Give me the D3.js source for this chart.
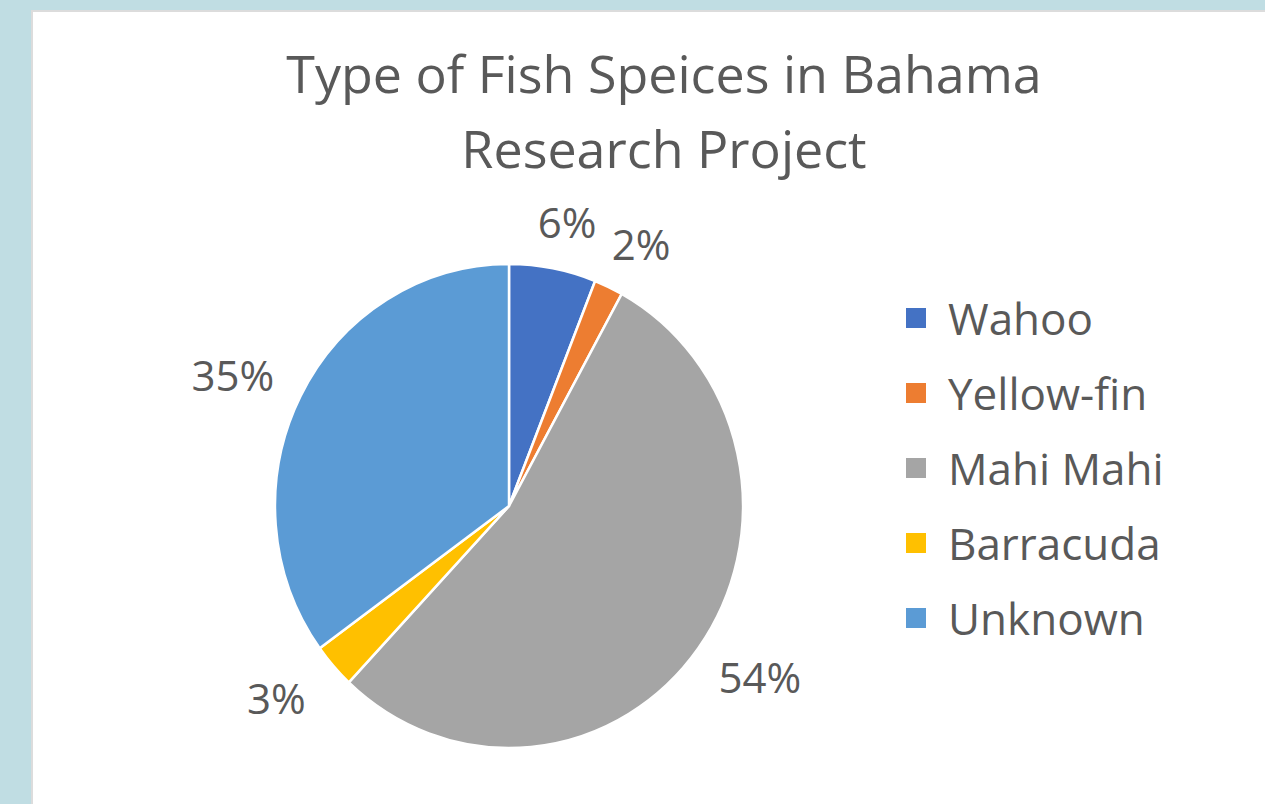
<!DOCTYPE html>
<html>
<head>
<meta charset="utf-8">
<script src="https://cdn.jsdelivr.net/npm/d3@7"></script>
<style>
  html, body { margin: 0; padding: 0; background: #c0dde3; }
  svg { display: block; }
  text { font-family: "Open Sans", sans-serif; fill: #595959; }
</style>
</head>
<body>
<div id="pie-container"></div>
<script>
// chart data
const titleLines = ["Type of Fish Speices in Bahama", "Research Project"];
const species = ["Wahoo", "Yellow-fin", "Mahi Mahi", "Barracuda", "Unknown"];
const percents = [6, 2, 54, 3, 35];
const colors = ["#4472c4", "#ed7d31", "#a5a5a5", "#ffc000", "#5b9bd5"];

const width = 1265;
const height = 804;
const cx = 509, cy = 506;
const rx = 234, ry = 242; // picture is slightly stretched vertically
const labelRx = 310, labelRy = 290;

const data = species.map((name, i) => ({ name: name, value: percents[i] }));

const svg = d3.select("#pie-container")
  .append("svg")
  .attr("width", width)
  .attr("height", height);

// white slide panel
svg.append("rect")
  .attr("x", 32).attr("y", 11)
  .attr("width", width).attr("height", height)
  .attr("fill", "#ffffff")
  .attr("stroke", "#dcdcdc")
  .attr("stroke-width", 2);

// title
svg.append("g")
  .selectAll("text")
  .data(titleLines)
  .join("text")
  .attr("x", 664)
  .attr("y", (d, i) => 93 + i * 75)
  .attr("text-anchor", "middle")
  .style("font-size", "52px")
  .text(d => d);

const colorScale = d3.scaleOrdinal().domain(species).range(colors);

const pieGenerator = d3.pie()
  .sort(null)
  .value(d => d.value);

const arcs = pieGenerator(data);

const arcGenerator = d3.arc()
  .innerRadius(0)
  .outerRadius(rx);

const labelArc = d3.arc()
  .innerRadius(labelRx)
  .outerRadius(labelRx);

const pie = svg.append("g")
  .attr("transform", `translate(${cx},${cy}) scale(1,${ry / rx})`);

pie.selectAll("path")
  .data(arcs)
  .join("path")
  .attr("d", arcGenerator)
  .attr("fill", d => colorScale(d.data.name))
  .attr("stroke", "#ffffff")
  .attr("stroke-width", 2.5)
  .attr("vector-effect", "non-scaling-stroke");

// data labels outside the pie (labels sit a bit closer above/below)
svg.append("g")
  .selectAll("text")
  .data(arcs)
  .join("text")
  .attr("transform", d => {
    const [x, y] = labelArc.centroid(d);
    return `translate(${cx + x},${cy + y * labelRy / labelRx})`;
  })
  .attr("text-anchor", "middle")
  .attr("dominant-baseline", "central")
  .style("font-size", "42px")
  .text(d => d.data.value + "%");

// legend
const legendY = d3.scalePoint()
  .domain(species)
  .range([318, 618]);

const legend = svg.append("g")
  .selectAll("g")
  .data(species)
  .join("g")
  .attr("transform", d => `translate(906,${legendY(d)})`);

legend.append("rect")
  .attr("x", 0).attr("y", -10)
  .attr("width", 20).attr("height", 20)
  .attr("fill", d => colorScale(d));

legend.append("text")
  .attr("x", 42)
  .attr("y", 0)
  .attr("dominant-baseline", "central")
  .style("font-size", "44px")
  .text(d => d);
</script>
</body>
</html>
